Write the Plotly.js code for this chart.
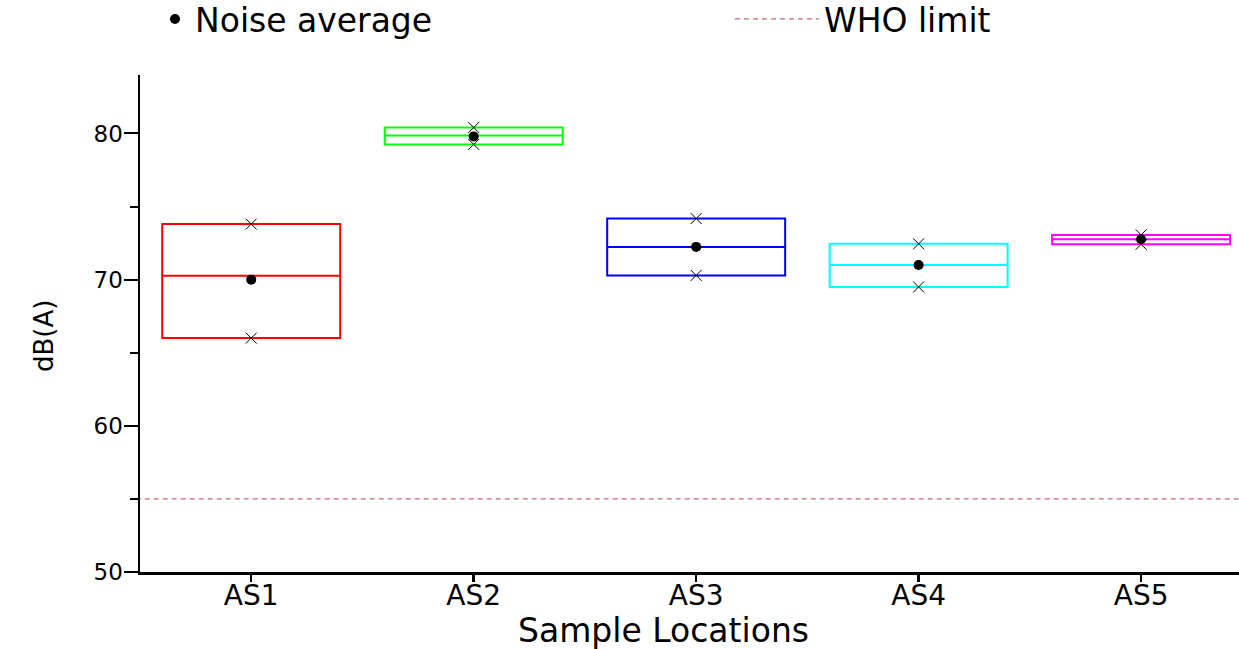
<!DOCTYPE html>
<html>
<head>
<meta charset="utf-8">
<script src="https://cdn.plot.ly/plotly-3.0.1.min.js"></script>
<style>html,body{margin:0;padding:0;background:#fff;}</style>
</head>
<body>
<div id="chart" style="width:1239px;height:649px;"></div>
<script>
// ---- data ----
var categories = ['AS1', 'AS2', 'AS3', 'AS4', 'AS5'];
var q1Values = [66.0, 79.25, 70.29, 69.5, 72.42];
var medianValues = [70.27, 79.86, 72.24, 71.0, 72.76];
var q3Values = [73.8, 80.41, 74.18, 72.45, 73.06];
var meanValues = [70.0, 79.8, 72.24, 71.0, 72.76];
var minValues = [66.0, 79.25, 70.29, 69.5, 72.42];
var maxValues = [73.8, 80.41, 74.18, 72.45, 73.06];
var boxColors = ['#ff0000', '#00ff00', '#0000ff', '#00ffff', '#ff00ff'];
var whoLimit = 55;
var xRange = [-0.5, 4.44];
var yRange = [50, 84];
var xTitle = 'Sample Locations';
var yTitle = 'dB(A)';

var positions = categories.map(function (c, i) { return i; });
var FONT = 'DejaVu Sans, Arial, sans-serif';

var traces = [];
categories.forEach(function (c, i) {
  traces.push({
    type: 'box',
    x: [positions[i]],
    q1: [q1Values[i]],
    median: [medianValues[i]],
    q3: [q3Values[i]],
    lowerfence: [minValues[i]],
    upperfence: [maxValues[i]],
    width: 0.8,
    whiskerwidth: 0,
    line: {color: boxColors[i], width: 2},
    fillcolor: 'rgba(0,0,0,0)',
    showlegend: false,
    hoverinfo: 'skip'
  });
});

// min / max markers
traces.push({
  type: 'scatter', mode: 'markers',
  x: positions.concat(positions),
  y: minValues.concat(maxValues),
  marker: {symbol: 'x-thin-open', size: 11, color: '#000', line: {color: '#222', width: 1}},
  showlegend: false, hoverinfo: 'skip', cliponaxis: false
});

traces.push({
  type: 'scatter', mode: 'markers', name: 'Noise average', legend: 'legend',
  x: positions, y: meanValues,
  marker: {symbol: 'circle', size: 10, color: '#000'},
  cliponaxis: false
});

traces.push({
  type: 'scatter', mode: 'lines', name: 'WHO limit', legend: 'legend2',
  x: [-0.6, 4.6], y: [whoLimit, whoLimit],
  line: {color: 'rgb(185,110,115)', width: 1.3, dash: '5px,4px'}
});

var legendFont = {family: FONT, size: 33, color: '#000'};

var layout = {
  width: 1239, height: 649, autosize: false,
  margin: {l: 140, r: 0, t: 75, b: 77, pad: 0},
  paper_bgcolor: '#fff', plot_bgcolor: '#fff',
  font: {family: FONT, color: '#000'},
  boxmode: 'overlay',
  showlegend: true,
  legend: {
    orientation: 'h', xref: 'container', yref: 'container',
    x: 155 / 1239, xanchor: 'left', y: 1 - 19 / 649, yanchor: 'middle',
    font: legendFont, bgcolor: 'rgba(0,0,0,0)', borderwidth: 0
  },
  legend2: {
    orientation: 'h', xref: 'container', yref: 'container',
    x: 730 / 1239, xanchor: 'left', y: 1 - 19 / 649, yanchor: 'middle',
    itemwidth: 84,
    font: legendFont, bgcolor: 'rgba(0,0,0,0)', borderwidth: 0
  },
  annotations: [{
    text: xTitle, xref: 'paper', yref: 'paper',
    x: (663 - 140) / 1099, y: -0.118, xanchor: 'center', yanchor: 'middle',
    showarrow: false, font: {family: FONT, size: 33, color: '#000'}
  }, {
    text: yTitle, xref: 'paper', yref: 'paper', textangle: -90,
    x: (44 - 140) / 1099, y: (572 - 336) / 497, xanchor: 'center', yanchor: 'middle',
    showarrow: false, font: {family: FONT, size: 26, color: '#000'}
  }],
  xaxis: {
    range: xRange, tickmode: 'array', tickvals: positions, ticktext: categories,
    showgrid: false, zeroline: false, showline: true, linecolor: '#000', linewidth: 2.5,
    ticks: 'outside', ticklen: 7, tickwidth: 2.5, tickcolor: '#000',
    ticklabelstandoff: -10,
    tickfont: {family: FONT, size: 28, color: '#000'}
  },
  yaxis: {
    range: yRange, tickmode: 'linear', tick0: 50, dtick: 10,
    showgrid: false, zeroline: false, showline: true, linecolor: '#000', linewidth: 2.5,
    ticks: 'outside', ticklen: 14, tickwidth: 2, tickcolor: '#000',
    ticklabelstandoff: -4,
    minor: {dtick: 5, ticks: 'outside', ticklen: 8, tickwidth: 2, tickcolor: '#000', showgrid: false},
    tickfont: {family: FONT, size: 23, color: '#000'}
  }
};

Plotly.newPlot('chart', traces, layout, {displayModeBar: false, staticPlot: true});
</script>
</body>
</html>
